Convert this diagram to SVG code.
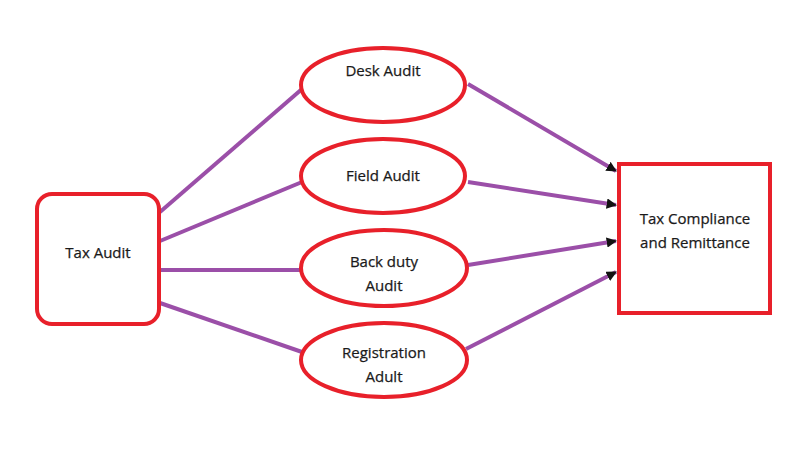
<svg xmlns="http://www.w3.org/2000/svg" width="800" height="450" viewBox="0 0 800 450">
<style>
.node{fill:#fff;stroke:#e8202a;stroke-width:4}
.lbl{font-family:"Open Sans","Liberation Sans",sans-serif;font-size:15px;fill:#1a1a1a;text-anchor:middle;stroke:#1a1a1a;stroke-width:0.25}
.edge{stroke:#9b4fa8;stroke-width:4;fill:none}
</style>
<defs>
<marker id="arr" viewBox="0 0 10 10" refX="9" refY="5" markerWidth="2.6" markerHeight="2.6" orient="auto" markerUnits="strokeWidth">
<path d="M0,0 L10,5 L0,10 Z" fill="#111"/>
</marker>
</defs>
<rect width="800" height="450" fill="#fff"/>
<g id="connectors">
<line class="edge" x1="160" y1="212" x2="302" y2="89"/>
<line class="edge" x1="160" y1="241" x2="302" y2="182"/>
<line class="edge" x1="160" y1="270" x2="302" y2="270"/>
<line class="edge" x1="160" y1="303" x2="302" y2="352"/>
<line class="edge" x1="468" y1="84" x2="616" y2="171" marker-end="url(#arr)"/>
<line class="edge" x1="468" y1="182" x2="616" y2="205" marker-end="url(#arr)"/>
<line class="edge" x1="468" y1="265" x2="616" y2="241" marker-end="url(#arr)"/>
<line class="edge" x1="466" y1="349" x2="616" y2="272" marker-end="url(#arr)"/>
</g>
<g id="tax-audit">
<rect class="node" x="37" y="194" width="122" height="130" rx="15"/>
<text class="lbl" x="98" y="258">Tax Audit</text>
</g>
<g id="desk-audit">
<ellipse class="node" cx="383" cy="85" rx="82" ry="37"/>
<text class="lbl" x="383" y="76">Desk Audit</text>
</g>
<g id="field-audit">
<ellipse class="node" cx="383" cy="176" rx="82" ry="37"/>
<text class="lbl" x="383" y="181">Field Audit</text>
</g>
<g id="back-duty-audit">
<ellipse class="node" cx="384" cy="268" rx="83" ry="38"/>
<text class="lbl" x="384" y="267">Back duty</text>
<text class="lbl" x="384" y="291">Audit</text>
</g>
<g id="registration-adult">
<ellipse class="node" cx="384" cy="360" rx="83" ry="37"/>
<text class="lbl" x="384" y="358">Registration</text>
<text class="lbl" x="384" y="382">Adult</text>
</g>
<g id="tax-compliance">
<rect class="node" x="619" y="164" width="151" height="149"/>
<text class="lbl" x="695" y="224">Tax Compliance</text>
<text class="lbl" x="695" y="248">and Remittance</text>
</g>
</svg>
